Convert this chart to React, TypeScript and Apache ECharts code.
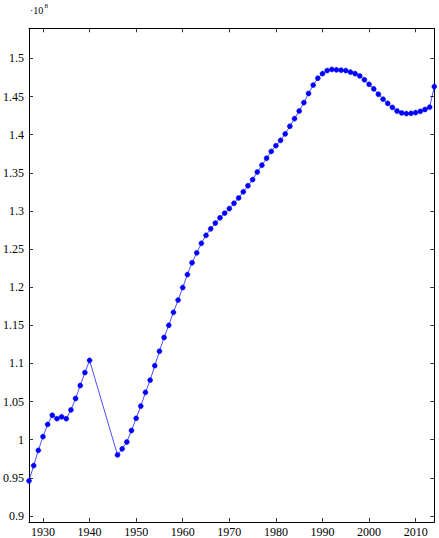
import { useEffect, useRef } from 'react';
import * as echarts from 'echarts';

const years = [
  1927, 1928, 1929, 1930, 1931, 1932, 1933, 1934, 1935, 1936, 1937, 1938, 1939, 1940,
  1946, 1947, 1948, 1949, 1950, 1951, 1952, 1953, 1954, 1955, 1956, 1957, 1958, 1959,
  1960, 1961, 1962, 1963, 1964, 1965, 1966, 1967, 1968, 1969, 1970, 1971, 1972, 1973,
  1974, 1975, 1976, 1977, 1978, 1979, 1980, 1981, 1982, 1983, 1984, 1985, 1986, 1987,
  1988, 1989, 1990, 1991, 1992, 1993, 1994, 1995, 1996, 1997, 1998, 1999, 2000, 2001,
  2002, 2003, 2004, 2005, 2006, 2007, 2008, 2009, 2010, 2011, 2012, 2013, 2014,
];

// population, in units of 10^8
const population = [
  0.946, 0.966, 0.986, 1.004, 1.02, 1.032, 1.0275, 1.03, 1.0275, 1.039, 1.054, 1.071, 1.088, 1.104,
  0.98, 0.988, 0.997, 1.012, 1.028, 1.044, 1.062, 1.078, 1.097, 1.116, 1.134, 1.15, 1.167, 1.183,
  1.1995, 1.2165, 1.232, 1.245, 1.2575, 1.268, 1.2765, 1.284, 1.291, 1.297, 1.303, 1.31, 1.317, 1.325,
  1.333, 1.341, 1.351, 1.36, 1.369, 1.378, 1.3855, 1.3925, 1.401, 1.411, 1.421, 1.431, 1.442, 1.454,
  1.465, 1.474, 1.48, 1.484, 1.4855, 1.485, 1.4845, 1.484, 1.482, 1.48, 1.477, 1.472, 1.466, 1.46,
  1.453, 1.4465, 1.441, 1.4357, 1.431, 1.4285, 1.4276, 1.428, 1.4289, 1.4306, 1.433, 1.436, 1.463,
];

const xTicks = [1930, 1940, 1950, 1960, 1970, 1980, 1990, 2000, 2010];
const yTicks = [0.9, 0.95, 1, 1.05, 1.1, 1.15, 1.2, 1.25, 1.3, 1.35, 1.4, 1.45, 1.5];

const FONT = 'Liberation Serif';

function App() {
  const ref = useRef<HTMLDivElement>(null);

  useEffect(() => {
    if (!ref.current) return;
    const chart = echarts.init(ref.current, null, { renderer: 'svg' });

    const yLo = Math.min(...population);
    const yHi = Math.max(...population);
    const pad = (yHi - yLo) * 0.1;

    const xBase = {
      type: 'value',
      min: years[0],
      max: years[years.length - 1],
      splitLine: { show: false },
      axisLine: { onZero: false, lineStyle: { color: '#000', width: 1 } },
      axisTick: { inside: true, length: 4, customValues: xTicks, lineStyle: { color: '#000', width: 0.8 } },
    };
    const yBase = {
      type: 'value',
      min: yLo - pad,
      max: yHi + pad,
      splitLine: { show: false },
      axisLine: { onZero: false, lineStyle: { color: '#000', width: 1 } },
      axisTick: { inside: true, length: 4, customValues: yTicks, lineStyle: { color: '#000', width: 0.8 } },
    };

    chart.setOption({
      animation: false,
      backgroundColor: '#fff',
      textStyle: { fontFamily: FONT },
      grid: { left: 27.3, right: 4.7, top: 28.3, bottom: 14.3 },
      xAxis: [
        {
          ...xBase,
          position: 'bottom',
          axisLabel: {
            customValues: xTicks,
            color: '#000',
            fontSize: 12,
            fontFamily: FONT,
            margin: 4,
            formatter: (v: number) => String(v),
          },
        },
        { ...xBase, position: 'top', axisLabel: { show: false } },
      ],
      yAxis: [
        {
          ...yBase,
          position: 'left',
          axisLabel: {
            customValues: yTicks,
            color: '#000',
            fontSize: 12,
            fontFamily: FONT,
            margin: 5,
            formatter: (v: number) => String(+v.toFixed(2)),
          },
        },
        { ...yBase, position: 'right', axisLabel: { show: false } },
      ],
      graphic: [
        {
          type: 'text',
          left: 30,
          top: 5,
          style: { text: '·10', fontSize: 10, fontFamily: FONT, fill: '#000' },
        },
        {
          type: 'text',
          left: 44.5,
          top: 2,
          style: { text: '8', fontSize: 7, fontFamily: FONT, fill: '#000' },
        },
      ],
      series: [
        {
          type: 'line',
          data: years.map((y, i) => [y, population[i]]),
          symbol: 'circle',
          symbolSize: 5,
          lineStyle: { color: '#0000ff', width: 0.7 },
          itemStyle: { color: '#0000ff', borderColor: '#0000ff', borderWidth: 0.5 },
          clip: false,
        },
      ],
    });

    return () => chart.dispose();
  }, []);

  return (
    <div
      ref={ref}
      style={{ position: 'fixed', left: 0, top: 0, width: 439, height: 538 }}
    />
  );
}

export default App;
